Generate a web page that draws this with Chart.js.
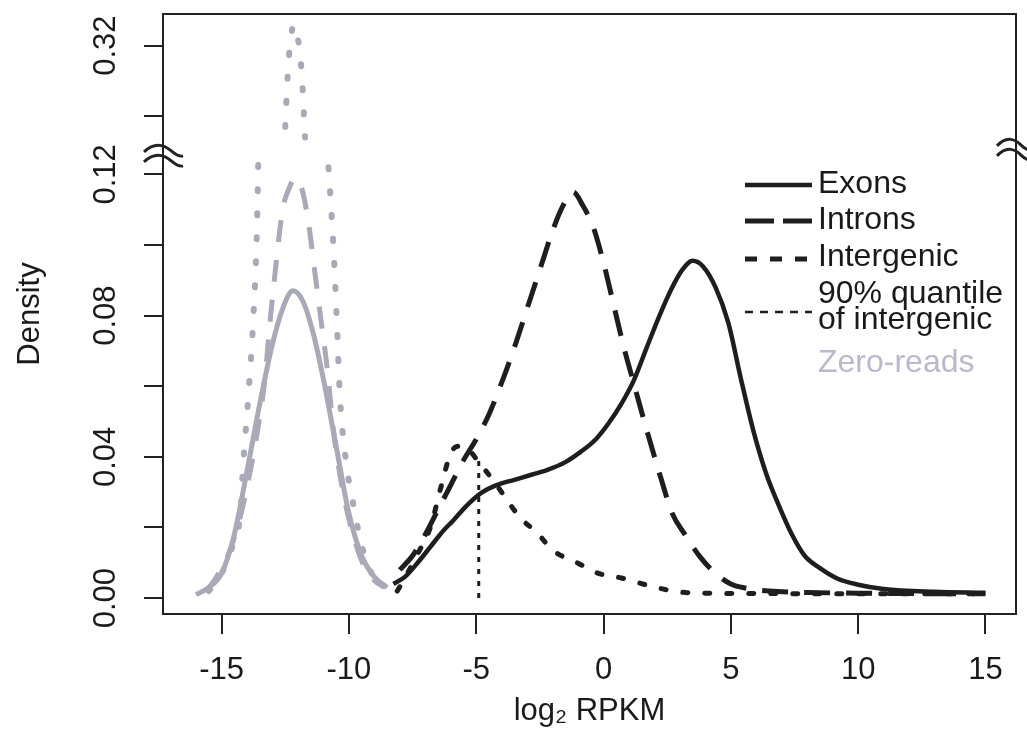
<!DOCTYPE html>
<html lang="en">
<head>
  <meta charset="UTF-8">
  <title>Density of log2 RPKM</title>
  <script src="https://cdn.jsdelivr.net/npm/chart.js"></script>
  <style>
    html, body {
      margin: 0;
      padding: 0;
      background-color: #ffffff;
    }
    #wrap {
      width: 1027px;
      height: 732px;
      position: relative;
    }
  </style>
</head>
<body>
  <div id="wrap"><canvas id="densityChart"></canvas></div>

  <script>
    // values (x = log2 RPKM, y = density)
    const exonsX = [-8.25, -7.8, -7.3, -6.8, -6.3, -5.9, -5.4, -4.8, -4.2, -3.5, -2.8, -2.2, -1.5, -0.9, -0.3, 0.2, 0.7, 1.2, 1.7, 2.2, 2.7, 3.1, 3.5, 3.9, 4.4, 4.9, 5.4, 5.9, 6.4, 6.9, 7.4, 7.9, 8.5, 9.2, 10.0, 11.0, 13.0, 15.0];
    const exonsY = [0.004, 0.006, 0.010, 0.0145, 0.019, 0.022, 0.026, 0.0298, 0.032, 0.0335, 0.035, 0.0363, 0.0385, 0.0414, 0.045, 0.0495, 0.055, 0.0618, 0.071, 0.080, 0.088, 0.093, 0.0955, 0.094, 0.088, 0.078, 0.062, 0.047, 0.035, 0.026, 0.018, 0.012, 0.0085, 0.0055, 0.0038, 0.0026, 0.0018, 0.0015];

    const intronsX = [-8.0, -7.5, -7.0, -6.5, -6.0, -5.5, -5.0, -4.5, -4.0, -3.5, -3.0, -2.5, -2.0, -1.6, -1.2, -0.8, -0.4, 0.0, 0.4, 0.8, 1.2, 1.7, 2.2, 2.7, 3.2, 3.8, 4.4, 5.0, 5.6, 6.5, 8.0, 10.0, 12.0, 15.0];
    const intronsY = [0.008, 0.012, 0.018, 0.025, 0.032, 0.039, 0.045, 0.052, 0.061, 0.071, 0.082, 0.093, 0.104, 0.111, 0.115, 0.111, 0.105, 0.095, 0.083, 0.071, 0.0605, 0.0475, 0.0353, 0.024, 0.018, 0.0116, 0.007, 0.004, 0.0028, 0.002, 0.0016, 0.0014, 0.0013, 0.0012];

    const intergenicX = [-8.1, -7.7, -7.3, -6.8, -6.4, -6.0, -5.7, -5.3, -4.9, -4.4, -3.9, -3.3, -2.6, -2.0, -1.0, -0.2, 0.7, 1.7, 2.9, 4.0, 6.0, 9.0, 12.0, 15.0];
    const intergenicY = [0.002, 0.007, 0.0125, 0.020, 0.031, 0.041, 0.043, 0.042, 0.0385, 0.034, 0.029, 0.023, 0.0184, 0.0136, 0.0099, 0.007, 0.0057, 0.0037, 0.0018, 0.0014, 0.0013, 0.0012, 0.0012, 0.0012];

    const quantileX = [-4.9, -4.9];
    const quantileY = [0, 0.039];

    // zero-read genes, same three classes (grey)
    const zeroExonsX = [-16.0, -15.5, -15.0, -14.5, -14.0, -13.5, -13.0, -12.6, -12.2, -11.8, -11.4, -11.0, -10.5, -10.0, -9.5, -9.0, -8.5];
    const zeroExonsY = [0.001, 0.003, 0.007, 0.018, 0.036, 0.055, 0.072, 0.082, 0.087, 0.084, 0.075, 0.062, 0.043, 0.024, 0.012, 0.006, 0.003];

    const zeroIntronsX = [-15.6, -15.2, -14.7, -14.3, -13.9, -13.55, -13.3, -13.1, -12.9, -12.6, -12.35, -12.1, -11.85, -11.6, -11.35, -11.1, -10.85, -10.6, -10.2, -9.8, -9.4, -9.0, -8.6];
    const zeroIntronsY = [0.002, 0.006, 0.013, 0.022, 0.035, 0.049, 0.062, 0.078, 0.092, 0.110, 0.116, 0.119, 0.116, 0.107, 0.093, 0.079, 0.065, 0.047, 0.029, 0.017, 0.009, 0.005, 0.003];

    // null = inside the axis break, not drawn
    const zeroInterX = [-15.5, -15.0, -14.6, -14.27, -14.15, -13.95, -13.75, -13.62, -13.56, -13.1, -12.5, -12.4, -12.3, -12.15, -12.0, -11.85, -11.72, -11.2, -10.8, -10.61, -10.48, -10.35, -10.08, -9.89, -9.5, -9.0];
    const zeroInterY = [0.002, 0.007, 0.014, 0.0235, 0.038, 0.057, 0.0797, 0.102, 0.123, null, 0.297, 0.312, 0.321, 0.326, 0.322, 0.312, 0.294, null, 0.122, 0.100, 0.0797, 0.057, 0.037, 0.029, 0.015, 0.005];

    const xTicks = [-15, -10, -5, 0, 5, 10, 15];
    const yTicks = [0, 0.02, 0.04, 0.06, 0.08, 0.10, 0.12, 0.30, 0.32];
    const yTickLabels = ['0.00', '', '0.04', '', '0.08', '', '0.12', '', '0.32'];
    const legendLabels = ['Exons', 'Introns', 'Intergenic', ['90% quantile', 'of intergenic'], 'Zero-reads'];

    // broken y axis: densities between GAP_LO and GAP_HI are cut out
    const GAP_LO = 0.124;
    const GAP_HI = 0.29;
    const GAP_SHIFT = 0.16355;

    function toAxis(v) {
      if (v === null) return null;
      if (v <= GAP_LO) return v;
      if (v < GAP_HI) return null;
      return v - GAP_SHIFT;
    }

    const BLACK = '#1e1e1e';
    const GREY = '#a9a9b7';
    const FONT = '"Liberation Sans", Arial, Helvetica, sans-serif';

    function series(label, xs, ys, style) {
      return Object.assign({
        label: label,
        data: xs.map((x, i) => ({ x: x, y: toAxis(ys[i]) })),
        pointRadius: 0,
        pointHoverRadius: 0,
        fill: false,
        spanGaps: false,
        cubicInterpolationMode: 'monotone',
        borderCapStyle: 'butt'
      }, style);
    }

    const framePlugin = {
      id: 'frame',
      afterDraw(chart) {
        const { ctx, chartArea: a, scales } = chart;
        ctx.save();
        ctx.strokeStyle = '#222';
        ctx.lineWidth = 2;
        ctx.strokeRect(a.left, a.top, a.right - a.left, a.bottom - a.top);

        // break marks on both sides
        const yb = scales.y.getPixelForValue((GAP_LO + GAP_HI - GAP_SHIFT) / 2);
        function wave(x0, y0, w) {
          ctx.beginPath();
          ctx.moveTo(x0, y0 + 2);
          ctx.bezierCurveTo(x0 + w * 0.3, y0 - 9, x0 + w * 0.55, y0 - 4, x0 + w * 0.7, y0 + 1);
          ctx.bezierCurveTo(x0 + w * 0.82, y0 + 5, x0 + w * 0.92, y0 + 7, x0 + w, y0 + 6);
          ctx.stroke();
        }
        ctx.lineWidth = 3;
        wave(a.left - 19, yb - 6, 39);
        wave(a.left - 19, yb + 4, 39);
        wave(a.right - 19, yb - 12, 34);
        wave(a.right - 19, yb - 2, 34);

        // legend
        ctx.font = '32px ' + FONT;
        ctx.textBaseline = 'middle';
        ctx.textAlign = 'left';
        const lx0 = 745, lx1 = 812, tx = 818;
        function sym(y, dash, width) {
          ctx.beginPath();
          ctx.setLineDash(dash);
          ctx.lineWidth = width;
          ctx.strokeStyle = BLACK;
          ctx.moveTo(lx0, y);
          ctx.lineTo(lx1, y);
          ctx.stroke();
          ctx.setLineDash([]);
        }
        ctx.fillStyle = '#1a1a1a';
        sym(185, [], 4.5);
        ctx.fillText(legendLabels[0], tx, 184);
        sym(221, [29, 9], 5);
        ctx.fillText(legendLabels[1], tx, 220);
        sym(259, [12, 13], 5);
        ctx.fillText(legendLabels[2], tx, 257);
        sym(312, [8, 7], 2.5);
        ctx.fillText(legendLabels[3][0], tx, 294);
        ctx.fillText(legendLabels[3][1], tx, 320);
        ctx.fillStyle = '#b9b9cb';
        ctx.fillText(legendLabels[4], tx, 363);
        ctx.restore();
      }
    };

    const ctx = document.getElementById('densityChart').getContext('2d');

    new Chart(ctx, {
      type: 'line',
      data: {
        datasets: [
          series('Zero-reads exons', zeroExonsX, zeroExonsY, { borderColor: GREY, borderWidth: 5 }),
          series('Zero-reads introns', zeroIntronsX, zeroIntronsY, { borderColor: GREY, borderWidth: 5, borderDash: [22, 18] }),
          series('Zero-reads intergenic', zeroInterX, zeroInterY, { borderColor: GREY, borderWidth: 6, borderDash: [2, 22], borderCapStyle: 'round' }),
          series('Exons', exonsX, exonsY, { borderColor: BLACK, borderWidth: 4.5 }),
          series('Introns', intronsX, intronsY, { borderColor: BLACK, borderWidth: 5, borderDash: [26, 16] }),
          series('Intergenic', intergenicX, intergenicY, { borderColor: BLACK, borderWidth: 5, borderDash: [5, 17], borderCapStyle: 'round' }),
          series('90% quantile of intergenic', quantileX, quantileY, { borderColor: BLACK, borderWidth: 3, borderDash: [5, 7], cubicInterpolationMode: 'default' })
        ]
      },
      options: {
        responsive: true,
        maintainAspectRatio: false,
        animation: false,
        layout: { padding: { top: 14, right: 11, left: 0, bottom: 0 } },
        plugins: {
          legend: { display: false },
          tooltip: { enabled: false }
        },
        scales: {
          x: {
            type: 'linear',
            min: -17.3,
            max: 16.2,
            afterBuildTicks: scale => { scale.ticks = xTicks.map(v => ({ value: v })); },
            afterFit: scale => {
              scale.height = 118;
              scale.paddingLeft = 0;
              scale.paddingRight = 0;
            },
            ticks: {
              autoSkip: false,
              maxRotation: 0,
              padding: 18,
              color: '#1a1a1a',
              font: { family: FONT, size: 31 },
              callback: v => String(v)
            },
            grid: { display: true, drawOnChartArea: false, drawTicks: true, tickLength: 20, color: '#222', lineWidth: 2 },
            border: { display: false },
            title: {
              display: true,
              text: 'log₂ RPKM',
              color: '#1a1a1a',
              font: { family: FONT, size: 31 },
              padding: { top: 0, bottom: 2 }
            }
          },
          y: {
            type: 'linear',
            min: -0.0045,
            max: 0.1654,
            afterBuildTicks: scale => { scale.ticks = yTicks.map(v => ({ value: toAxis(v) })); },
            afterFit: scale => {
              scale.width = 163;
              scale.paddingTop = 0;
              scale.paddingBottom = 0;
            },
            ticks: {
              autoSkip: false,
              minRotation: 90,
              maxRotation: 90,
              crossAlign: 'center',
              padding: 7,
              color: '#1a1a1a',
              font: { family: FONT, size: 31 },
              callback: (v, i) => yTickLabels[i]
            },
            grid: { display: true, drawOnChartArea: false, drawTicks: true, tickLength: 19, color: '#222', lineWidth: 2 },
            border: { display: false },
            title: {
              display: true,
              text: 'Density',
              color: '#1a1a1a',
              font: { family: FONT, size: 31 },
              padding: { top: 12, bottom: 0 }
            }
          }
        }
      },
      plugins: [framePlugin]
    });
  </script>
</body>
</html>
